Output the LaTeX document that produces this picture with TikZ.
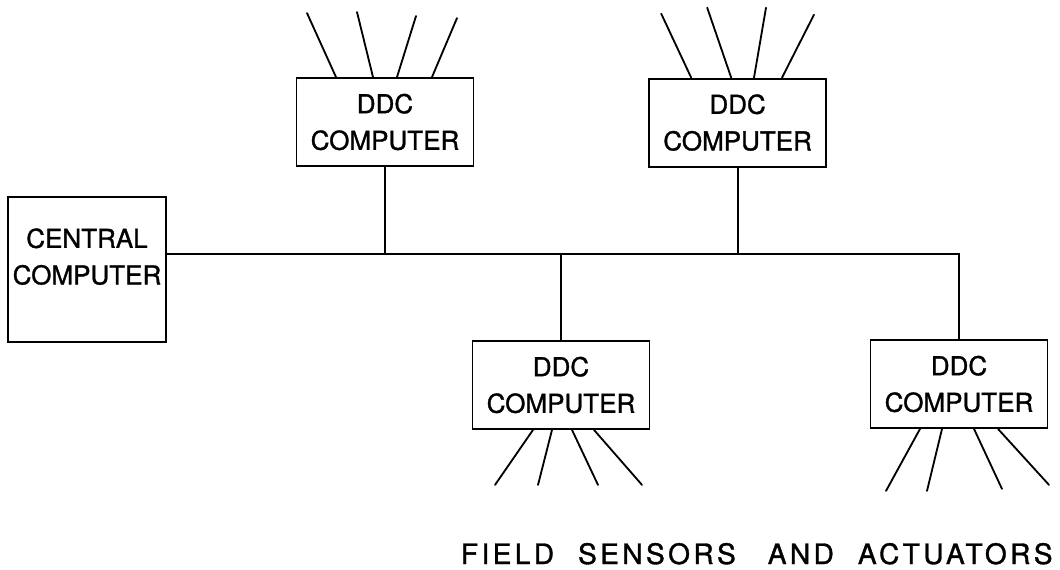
\documentclass[tikz,border=0pt]{standalone}
\usepackage{fontspec}
\newfontfamily\drawfont[FakeBold=1.2]{TeX Gyre Heros}
\newfontfamily\capfont[LetterSpace=12,FakeBold=1.2]{TeX Gyre Heros}
\usetikzlibrary{positioning,calc}

\begin{document}
\begin{tikzpicture}[
	line width=1.3pt,
	comp/.style={draw,align=center,inner sep=1pt,font=\drawfont\fontsize{18.5}{26}\selectfont},
	ddc/.style={comp,minimum width=4.425cm,minimum height=2.2cm},
	central/.style={comp,minimum width=3.95cm,minimum height=3.625cm,text depth=0.65cm},
	wire/.style={line cap=round},
	lbl/.style={font=\capfont\fontsize{20}{24}\selectfont,inner sep=0pt}
	]
	\useasboundingbox (0,0) rectangle (26.5,14.225);
	\node[central] (cc) at (2.175,7.49) {CENTRAL\\COMPUTER};
	\node[ddc] (d1) at (9.625,11.175) {DDC\\COMPUTER};
	\node[ddc] (d2) at (18.44,11.16) {DDC\\COMPUTER};
	\node[ddc] (d3) at (14.025,4.6) {DDC\\COMPUTER};
	\node[ddc] (d4) at (23.975,4.625) {DDC\\COMPUTER};

	% data highway
	\coordinate (bus) at (0,7.875);
	\draw (cc.east |- bus) -- (d4.north |- bus) -- (d4.north);
	\draw (d1.south) -- (d1.south |- bus);
	\draw (d2.south) -- (d2.south |- bus);
	\draw (d3.north) -- (d3.north |- bus);

	% field wiring
	\foreach \s/\dx/\dy in {-1.225/-0.725/1.6,-0.3/-0.4/1.625,0.3/0.475/1.525,1.175/0.625/1.475}
		\draw[wire] ([xshift=\s cm]d1.north) -- ++(\dx,\dy);
	\foreach \s/\dx/\dy in {-1.16/-0.75/1.6,-0.16/-0.6/1.75,0.41/0.3/1.75,1.11/0.8/1.575}
		\draw[wire] ([xshift=\s cm]d2.north) -- ++(\dx,\dy);
	\foreach \s/\dx/\dy in {-0.7/-0.95/-1.375,-0.225/-0.35/-1.375,0.275/0.65/-1.375,0.825/1.2/-1.375}
		\draw[wire] ([xshift=\s cm]d3.south) -- ++(\dx,\dy);
	\foreach \s/\dx/\dy in {-0.975/-0.85/-1.55,-0.425/-0.375/-1.55,0.375/0.7/-1.5,0.975/1.275/-1.4}
		\draw[wire] ([xshift=\s cm]d4.south) -- ++(\dx,\dy);

	\node[lbl,anchor=base west] (fsa) at (11.5,0.125) {FIELD\hspace{0.6cm}SENSORS\hspace{0.8cm}AND\hspace{0.6cm}ACTUATORS};
\end{tikzpicture}
\end{document}
